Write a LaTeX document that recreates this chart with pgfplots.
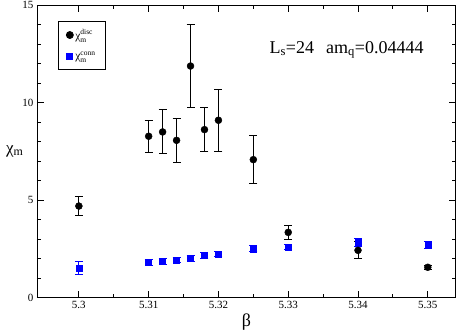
\documentclass[border=0pt]{standalone}
\usepackage{fontspec}
\setmainfont{Liberation Serif}
\usepackage{pgfplots}
\pgfplotsset{compat=1.18}
\usepackage{pgfplotstable}

% beta, chi_m^disc, error
\pgfplotstableread{
b     y      e
5.300 4.69   0.47
5.310 8.27   0.83
5.312 8.49   1.13
5.314 8.06   1.12
5.316 11.87  2.11
5.318 8.61   1.13
5.320 9.09   1.60
5.325 7.07   1.23
5.330 3.34   0.37
5.340 2.42   0.43
5.350 1.55   0.10
}\disc

% beta, chi_m^conn, error
\pgfplotstableread{
b     y      e
5.300 1.51   0.32
5.310 1.79   0.15
5.312 1.84   0.17
5.314 1.91   0.14
5.316 2.01   0.14
5.318 2.16   0.15
5.320 2.23   0.15
5.325 2.50   0.15
5.330 2.59   0.15
5.340 2.83   0.22
5.350 2.71   0.18
}\conn

\newcommand{\scr}[1]{\mbox{\fontsize{7.5}{8}\selectfont #1}}

\begin{document}
\begin{tikzpicture}
\begin{axis}[
  scale only axis,
  width=418.7pt, height=292.5pt,
  xmin=5.294, xmax=5.354,
  ymin=0, ymax=15,
  xtick={5.3,5.31,5.32,5.33,5.34,5.35},
  xticklabels={5.3,5.31,5.32,5.33,5.34,5.35},
  ytick={0,5,10,15},
  minor x tick num=1,
  minor y tick num=4,
  tick align=inside,
  tick pos=both,
  major tick length=7pt,
  minor tick length=4pt,
  axis line style={line width=0.9pt},
  every tick/.style={black, line width=0.9pt},
  tick label style={font=\fontsize{11}{13}\selectfont},
  /pgf/number format/assume math mode=true,
  xlabel={β},
  xlabel style={at={(axis description cs:0.5,-0.084)}, anchor=center, font=\fontsize{18}{20}\selectfont},
  ylabel={χ\textsubscript{m}},
  ylabel style={at={(axis description cs:-0.053,0.5)}, anchor=center, rotate=-90, font=\fontsize{17}{20}\selectfont},
  legend style={at={(axis description cs:0.05,0.945)}, anchor=north west,
    draw=black, line width=0.8pt, font=\fontsize{11.5}{13}\selectfont,
    row sep=7pt, inner xsep=8pt, inner ysep=6pt,
    /tikz/every even column/.append style={column sep=8pt}},
  legend cell align=left,
]
\addplot[only marks, mark=*, mark size=3.5pt, black,
  error bars/.cd, y dir=both, y explicit,
  error bar style={line width=1pt},
  error mark options={rotate=90, mark size=4pt, line width=1pt}]
  table[x=b, y=y, y error=e] {\disc};
\addlegendentry{χ$^{\scr{disc}}_{\scr{m}}$}
\addplot[only marks, mark=square*, mark size=3pt, blue,
  error bars/.cd, y dir=both, y explicit,
  error bar style={line width=1pt},
  error mark options={rotate=90, mark size=4pt, line width=1pt}]
  table[x=b, y=y, y error=e] {\conn};
\addlegendentry{χ$^{\scr{conn}}_{\scr{m}}$}
\node[anchor=base west, font=\fontsize{18}{21}\selectfont, inner sep=0pt]
  at (axis cs:5.3273,12.52) {L\textsubscript{s}=24\hspace{12pt}am\textsubscript{q}=0.04444};
\end{axis}
\pgfresetboundingbox
\useasboundingbox (-37pt,-35.5pt) rectangle (420pt,297.5pt);
\end{tikzpicture}
\end{document}
